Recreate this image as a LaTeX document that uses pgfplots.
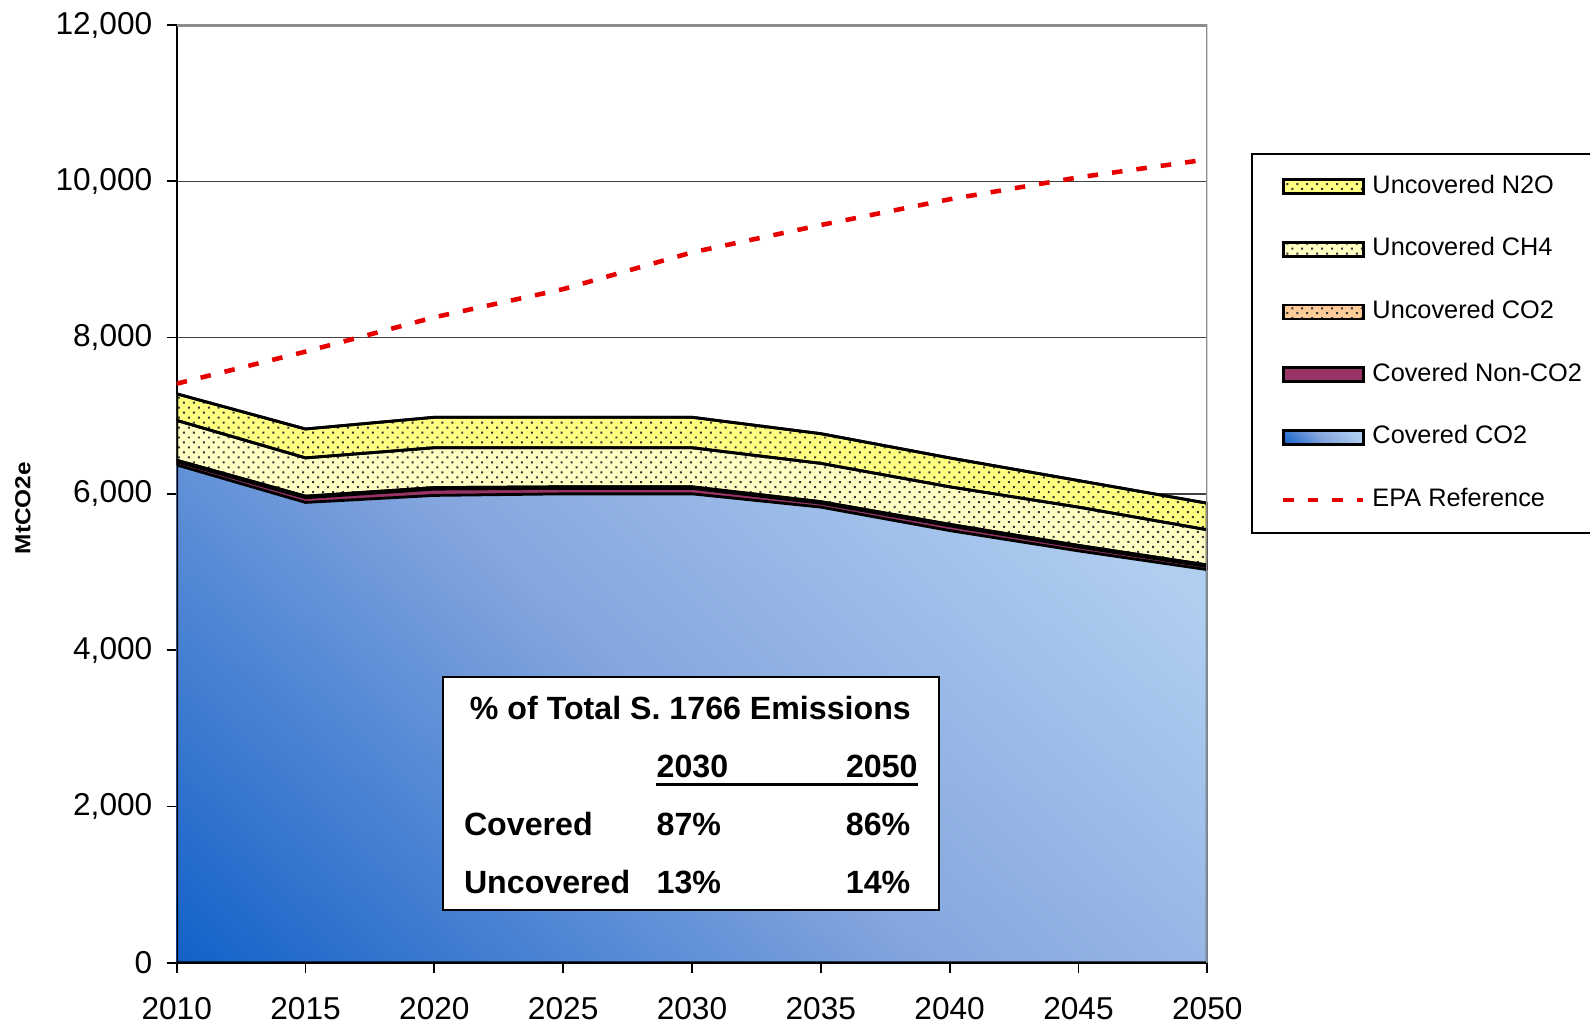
\documentclass[border=0pt]{standalone}
\usepackage{pgfplots}
\pgfplotsset{compat=1.18}
\usepackage{fontspec}
\setmainfont{Liberation Sans}
\usetikzlibrary{patterns.meta}

\definecolor{nitro}{HTML}{FFFF80}
\definecolor{meth}{HTML}{FFFFC4}
\definecolor{unco}{HTML}{FFCC99}
\definecolor{noncd}{HTML}{993366}
\definecolor{bdark}{HTML}{1060C8}
\definecolor{bmid}{HTML}{85A6DE}
\definecolor{blight}{HTML}{B0CEF0}
\definecolor{epared}{HTML}{E60000}

% diagonal blue wash of the Covered CO2 band
\pgfdeclareverticalshading{covblue}{100bp}{color(0bp)=(bdark); color(14bp)=(bdark); color(49bp)=(bmid); color(78bp)=(blight); color(100bp)=(blight)}

\tikzset{
  dotfill/.style={postaction={pattern={Dots[distance=2pt,angle=45,radius=0.4pt]},pattern color=black!80}},
}
\pgfplotsset{
  boxleg/.style={legend image code/.code={\path (-0.17cm,0cm); \draw[##1] (0cm,-0.07cm) rectangle (0.8cm,0.07cm);}},
  dashleg/.style={legend image code/.code={\path (-0.17cm,0cm); \draw[##1] (0cm,0cm) -- (0.8cm,0cm);}},
}

% tops of each stacked band, MtCO2e
\pgfplotstableread{
year  cco2  noncd  uco2  ch4   n2o   epa
2010  6370  6410   6430  6940  7280  7410
2015  5890  5950   5970  6460  6830  7820
2020  5980  6060   6080  6590  6980  8260
2025  6000  6070   6090  6590  6980  8620
2030  6000  6070   6090  6590  6980  9090
2035  5830  5880   5900  6390  6770  9440
2040  5530  5590   5610  6090  6460  9770
2045  5270  5320   5340  5830  6170  10050
2050  5030  5070   5090  5540  5880  10280
}\emis

\begin{document}
\begin{tikzpicture}
\useasboundingbox (-1.767,-0.613) rectangle (14.133,9.627);
\begin{axis}[
  at={(0,0)}, anchor=south west,
  scale only axis, width=10.306cm, height=9.377cm,
  xmin=2010, xmax=2050, ymin=0, ymax=12000,
  xtick={2010,2015,...,2050}, ytick={0,2000,...,12000},
  axis x line*=bottom, axis y line*=left,
  axis line style={black, line width=0.6pt},
  tick align=outside, major tick length=0.1cm,
  tick style={black, line width=0.5pt},
  ymajorgrids, grid style={black!75, line width=0.4pt},
  /pgf/number format/assume math mode=true,
  scaled y ticks=false,
  yticklabel style={/pgf/number format/1000 sep={,}, xshift=-0.02cm},
  xticklabel style={/pgf/number format/1000 sep={}, yshift=-0.12cm},
  tick label style={font=\fontsize{9}{11}\selectfont},
  legend cell align=left,
  legend style={at={(axis description cs:1.0424,0.8635)}, anchor=north west,
    draw=black, line width=0.5pt, fill=white,
    font=\fontsize{7.2}{8.6}\selectfont,
    inner xsep=0.12cm, inner ysep=0.14cm, row sep=0.25cm},
  boxleg,
  every axis plot/.append style={line width=0.8pt},
]
\addplot[draw=black, fill=nitro, dotfill] table[x=year,y=n2o] {\emis} \closedcycle;
\addlegendentry{Uncovered N2O}
\addplot[draw=black, fill=meth, dotfill] table[x=year,y=ch4] {\emis} \closedcycle;
\addlegendentry{Uncovered CH4}
\addplot[draw=black, fill=unco, dotfill] table[x=year,y=uco2] {\emis} \closedcycle;
\addlegendentry{Uncovered CO2}
\addplot[draw=black, fill=noncd] table[x=year,y=noncd] {\emis} \closedcycle;
\addlegendentry{Covered Non-CO2}
\addplot[draw=black, shade, shading=covblue, shading angle=-43] table[x=year,y=cco2] {\emis} \closedcycle;
\addlegendentry{Covered CO2}
\addplot[epared, line width=1.3pt, dash pattern=on 3pt off 4pt, dashleg]
  table[x=year,y=epa] {\emis};
\addlegendentry{EPA Reference}
\draw[black!45, line width=1pt] (rel axis cs:0,1) -- (rel axis cs:1,1) -- (rel axis cs:1,0);
\end{axis}

\node[rotate=90, font=\fontsize{6.2}{7}\selectfont\bfseries] at (-1.537,4.547) {\scalebox{1.12}[1]{MtCO2e}};

% inset table
\draw[black, line width=0.6pt, fill=white] (2.663,0.527) rectangle (7.623,2.857);
\begin{scope}[every node/.style={font=\fontsize{9.15}{11}\selectfont\bfseries, inner sep=0pt}]
\node[anchor=base] at (5.137,2.43) {\% of Total S. 1766 Emissions};
\node[anchor=base west] at (4.793,1.85) {2030};
\node[anchor=base east] at (7.416,1.85) {2050};
\draw[black, line width=0.9pt] (4.793,1.78) -- (7.416,1.78);
\node[anchor=base west] at (2.866,1.27) {Covered};
\node[anchor=base west] at (4.793,1.27) {87\%};
\node[anchor=base east] at (7.343,1.27) {86\%};
\node[anchor=base west] at (2.866,0.69) {Uncovered};
\node[anchor=base west] at (4.793,0.69) {13\%};
\node[anchor=base east] at (7.343,0.69) {14\%};
\end{scope}
\end{tikzpicture}
\end{document}
